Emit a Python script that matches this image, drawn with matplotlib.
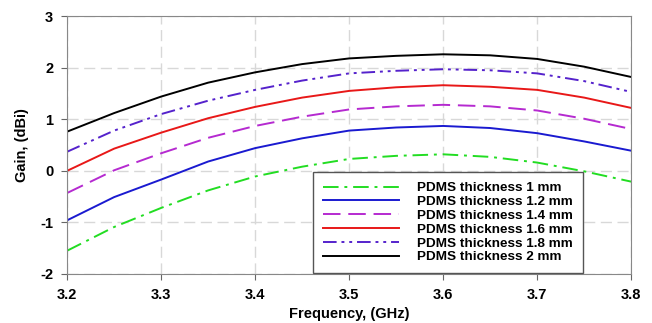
import matplotlib
matplotlib.use('Agg')
from matplotlib import pyplot as plt

plt.rcParams['font.family'] = ['Liberation Sans', 'DejaVu Sans']
plt.rcParams['font.weight'] = 'bold'
plt.rcParams['axes.unicode_minus'] = False

freq = [3.2, 3.25, 3.3, 3.35, 3.4, 3.45, 3.5, 3.55, 3.6, 3.65, 3.7, 3.75, 3.8]
gain_1mm = [-1.55, -1.09, -0.72, -0.38, -0.11, 0.08, 0.23, 0.29, 0.32, 0.27, 0.16, -0.01, -0.21]
gain_12mm = [-0.96, -0.51, -0.17, 0.18, 0.44, 0.63, 0.78, 0.84, 0.87, 0.83, 0.73, 0.57, 0.39]
gain_14mm = [-0.43, 0.01, 0.34, 0.64, 0.87, 1.05, 1.19, 1.25, 1.28, 1.25, 1.17, 1.01, 0.81]
gain_16mm = [0.0, 0.43, 0.74, 1.02, 1.24, 1.42, 1.55, 1.62, 1.66, 1.63, 1.57, 1.42, 1.22]
gain_18mm = [0.37, 0.78, 1.10, 1.36, 1.57, 1.75, 1.89, 1.94, 1.97, 1.95, 1.89, 1.74, 1.53]
gain_2mm = [0.76, 1.12, 1.44, 1.71, 1.91, 2.07, 2.18, 2.23, 2.26, 2.24, 2.17, 2.02, 1.82]

fig = plt.figure(figsize=(6.52, 3.23), dpi=100)
ax = fig.add_axes([0.103, 0.152, 0.865, 0.798])

ax.plot(freq, gain_1mm, color='#22dd22', linestyle=(0, (8, 3, 1.5, 3)), lw=1.4, label='PDMS thickness 1 mm')
ax.plot(freq, gain_12mm, color='#1a1ad0', linestyle='-', lw=1.4, label='PDMS thickness 1.2 mm')
ax.plot(freq, gain_14mm, color='#b52ad0', linestyle=(0, (9, 4)), lw=1.4, label='PDMS thickness 1.4 mm')
ax.plot(freq, gain_16mm, color='#e81818', linestyle='-', lw=1.4, label='PDMS thickness 1.6 mm')
ax.plot(freq, gain_18mm, color='#5522cc', linestyle=(0, (7, 2.5, 1.5, 2.5, 1.5, 2.5)), lw=1.4, label='PDMS thickness 1.8 mm')
ax.plot(freq, gain_2mm, color='black', linestyle='-', lw=1.4, label='PDMS thickness 2 mm')

ax.set_xlim(3.2, 3.8)
ax.set_ylim(-2, 3)
ax.set_xticks([3.2, 3.3, 3.4, 3.5, 3.6, 3.7, 3.8])
ax.set_yticks([-2, -1, 0, 1, 2, 3])
ax.grid(True, color='#d8d8d8', linestyle=(0, (8, 4)), lw=1)
ax.set_axisbelow(True)
for s in ax.spines.values():
    s.set_color('#888888')
ax.tick_params(direction='out', color='#666666', length=4, labelsize=10.5, pad=6)

ax.set_xlabel('Frequency, (GHz)', fontsize=10.5, fontweight='bold', labelpad=4)
ax.set_ylabel('Gain, (dBi)', fontsize=10.5, fontweight='bold', labelpad=8)

leg = ax.legend(loc='lower left', bbox_to_anchor=(0.436, 0.002), borderaxespad=0,
                fontsize=9.7, handlelength=5.6, handletextpad=1.4, labelspacing=0.1,
                fancybox=False, framealpha=1, edgecolor='#555555', borderpad=0.75)
leg.get_frame().set_linewidth(1)

plt.savefig('out.png', dpi=100)
